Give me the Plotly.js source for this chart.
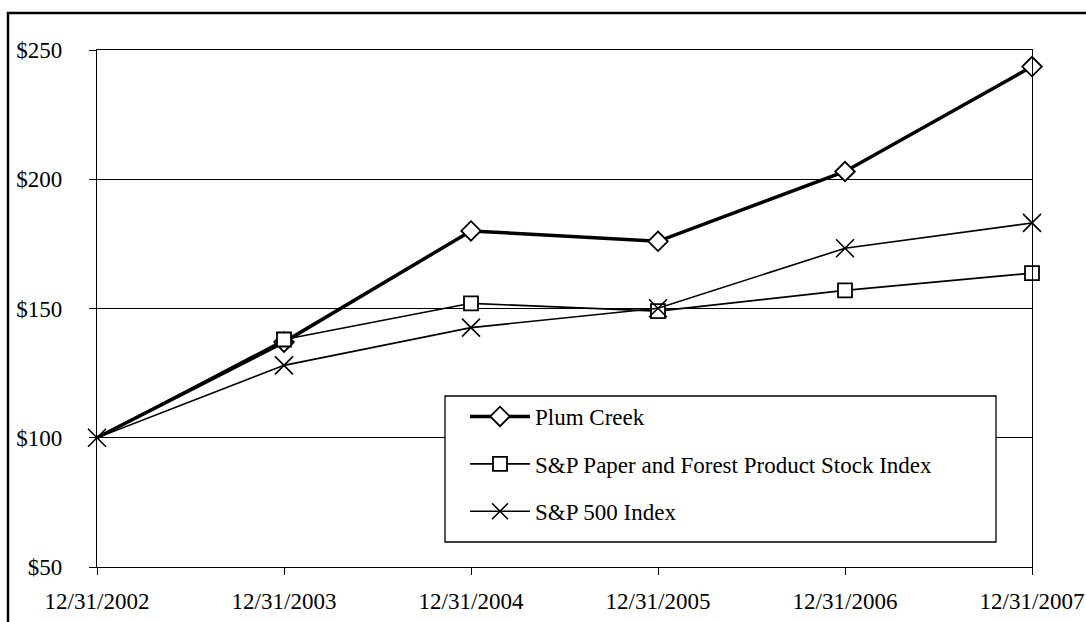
<!DOCTYPE html>
<html>
<head>
<meta charset="utf-8">
<script src="https://cdn.plot.ly/plotly-3.0.1.min.js"></script>
<style>html,body{margin:0;padding:0;background:#fff;}#chart{width:1086px;height:622px;}</style>
</head>
<body>
<div id="chart"></div>
<script>
const dates = ["12/31/2002", "12/31/2003", "12/31/2004", "12/31/2005", "12/31/2006", "12/31/2007"];
const plumCreek = [100, 137, 180, 176, 203, 243.6];
const spPaper = [100, 138, 152, 149, 157, 163.7];
const sp500 = [100, 128, 142.6, 150.1, 173.3, 183.1];
const yTicks = [50, 100, 150, 200, 250];
const yTickLabels = ["$50", "$100", "$150", "$200", "$250"];

const FONT = "Liberation Serif, Times New Roman, serif";

// the shared starting point shows only the S&P 500 cross in the original
const afterFirst = dates.map((_, i) => i).filter(i => i > 0);

const traces = [
  {
    x: dates, y: plumCreek, name: "Plum Creek", type: "scatter", mode: "lines+markers",
    line: {color: "#000", width: 3.5},
    marker: {symbol: "diamond", size: 15, color: "#fff", line: {color: "#000", width: 1.8}},
    selectedpoints: afterFirst, selected: {marker: {opacity: 1}}, unselected: {marker: {opacity: 0}},
    cliponaxis: false, legendgroup: "a"
  },
  {
    x: dates, y: spPaper, name: "S&P Paper and Forest Product Stock Index", type: "scatter", mode: "lines+markers",
    line: {color: "#000", width: 1.6},
    marker: {symbol: "square", size: 14, color: "#fff", line: {color: "#000", width: 1.8}},
    selectedpoints: afterFirst, selected: {marker: {opacity: 1}}, unselected: {marker: {opacity: 0}},
    cliponaxis: false, legendgroup: "b"
  },
  {
    x: dates, y: sp500, name: "S&P 500 Index", type: "scatter", mode: "lines+markers",
    line: {color: "#000", width: 1.6},
    marker: {symbol: "x-thin-open", size: 18, color: "#000", line: {color: "#000", width: 1.6}},
    cliponaxis: false, legendgroup: "c"
  }
];

const L = 97, R = 1032, T = 50, B = 567, W = 1086, H = 622;
const pw = R - L, ph = B - T;
function px(x) { return (x - L) / pw; }
function py(y) { return (B - y) / ph; }

const layout = {
  width: W, height: H,
  margin: {l: L, r: W - R, t: T, b: H - B, pad: 0},
  paper_bgcolor: "#fff", plot_bgcolor: "#fff",
  font: {family: FONT, size: 23, color: "#000"},
  showlegend: true,
  legend: {
    x: px(465), y: py(395), xanchor: "left", yanchor: "top",
    bgcolor: "rgba(0,0,0,0)", borderwidth: 0,
    font: {family: FONT, size: 23, color: "#000"},
    tracegroupgap: 14.5, itemwidth: 60
  },
  xaxis: {
    type: "category", range: [0, 5], showgrid: false, zeroline: false,
    showline: true, linecolor: "#000", linewidth: 1.2, mirror: true,
    ticks: "outside", ticklen: 7, tickcolor: "#000", tickwidth: 1,
    ticklabelstandoff: 6,
    tickfont: {family: FONT, size: 23, color: "#000"}, fixedrange: true
  },
  yaxis: {
    range: [50, 250], tickvals: yTicks, ticktext: yTickLabels,
    showgrid: true, gridcolor: "#000", gridwidth: 1, zeroline: false,
    showline: true, linecolor: "#000", linewidth: 1.2, mirror: true,
    ticks: "outside", ticklen: 7, tickcolor: "#000", tickwidth: 1,
    ticklabelstandoff: 22,
    tickfont: {family: FONT, size: 23, color: "#000"}, fixedrange: true
  },
  shapes: [
    {type: "rect", xref: "paper", yref: "paper", x0: px(8), x1: px(1100), y0: py(640), y1: py(13),
     line: {color: "#000", width: 2.5}, fillcolor: "rgba(0,0,0,0)", layer: "below"},
    {type: "rect", xref: "paper", yref: "paper", x0: px(445), x1: px(996), y0: py(542), y1: py(396),
     line: {color: "#000", width: 1.3}, fillcolor: "#fff", layer: "above"}
  ]
};

Plotly.newPlot("chart", traces, layout, {displayModeBar: false, staticPlot: true});
</script>
</body>
</html>
